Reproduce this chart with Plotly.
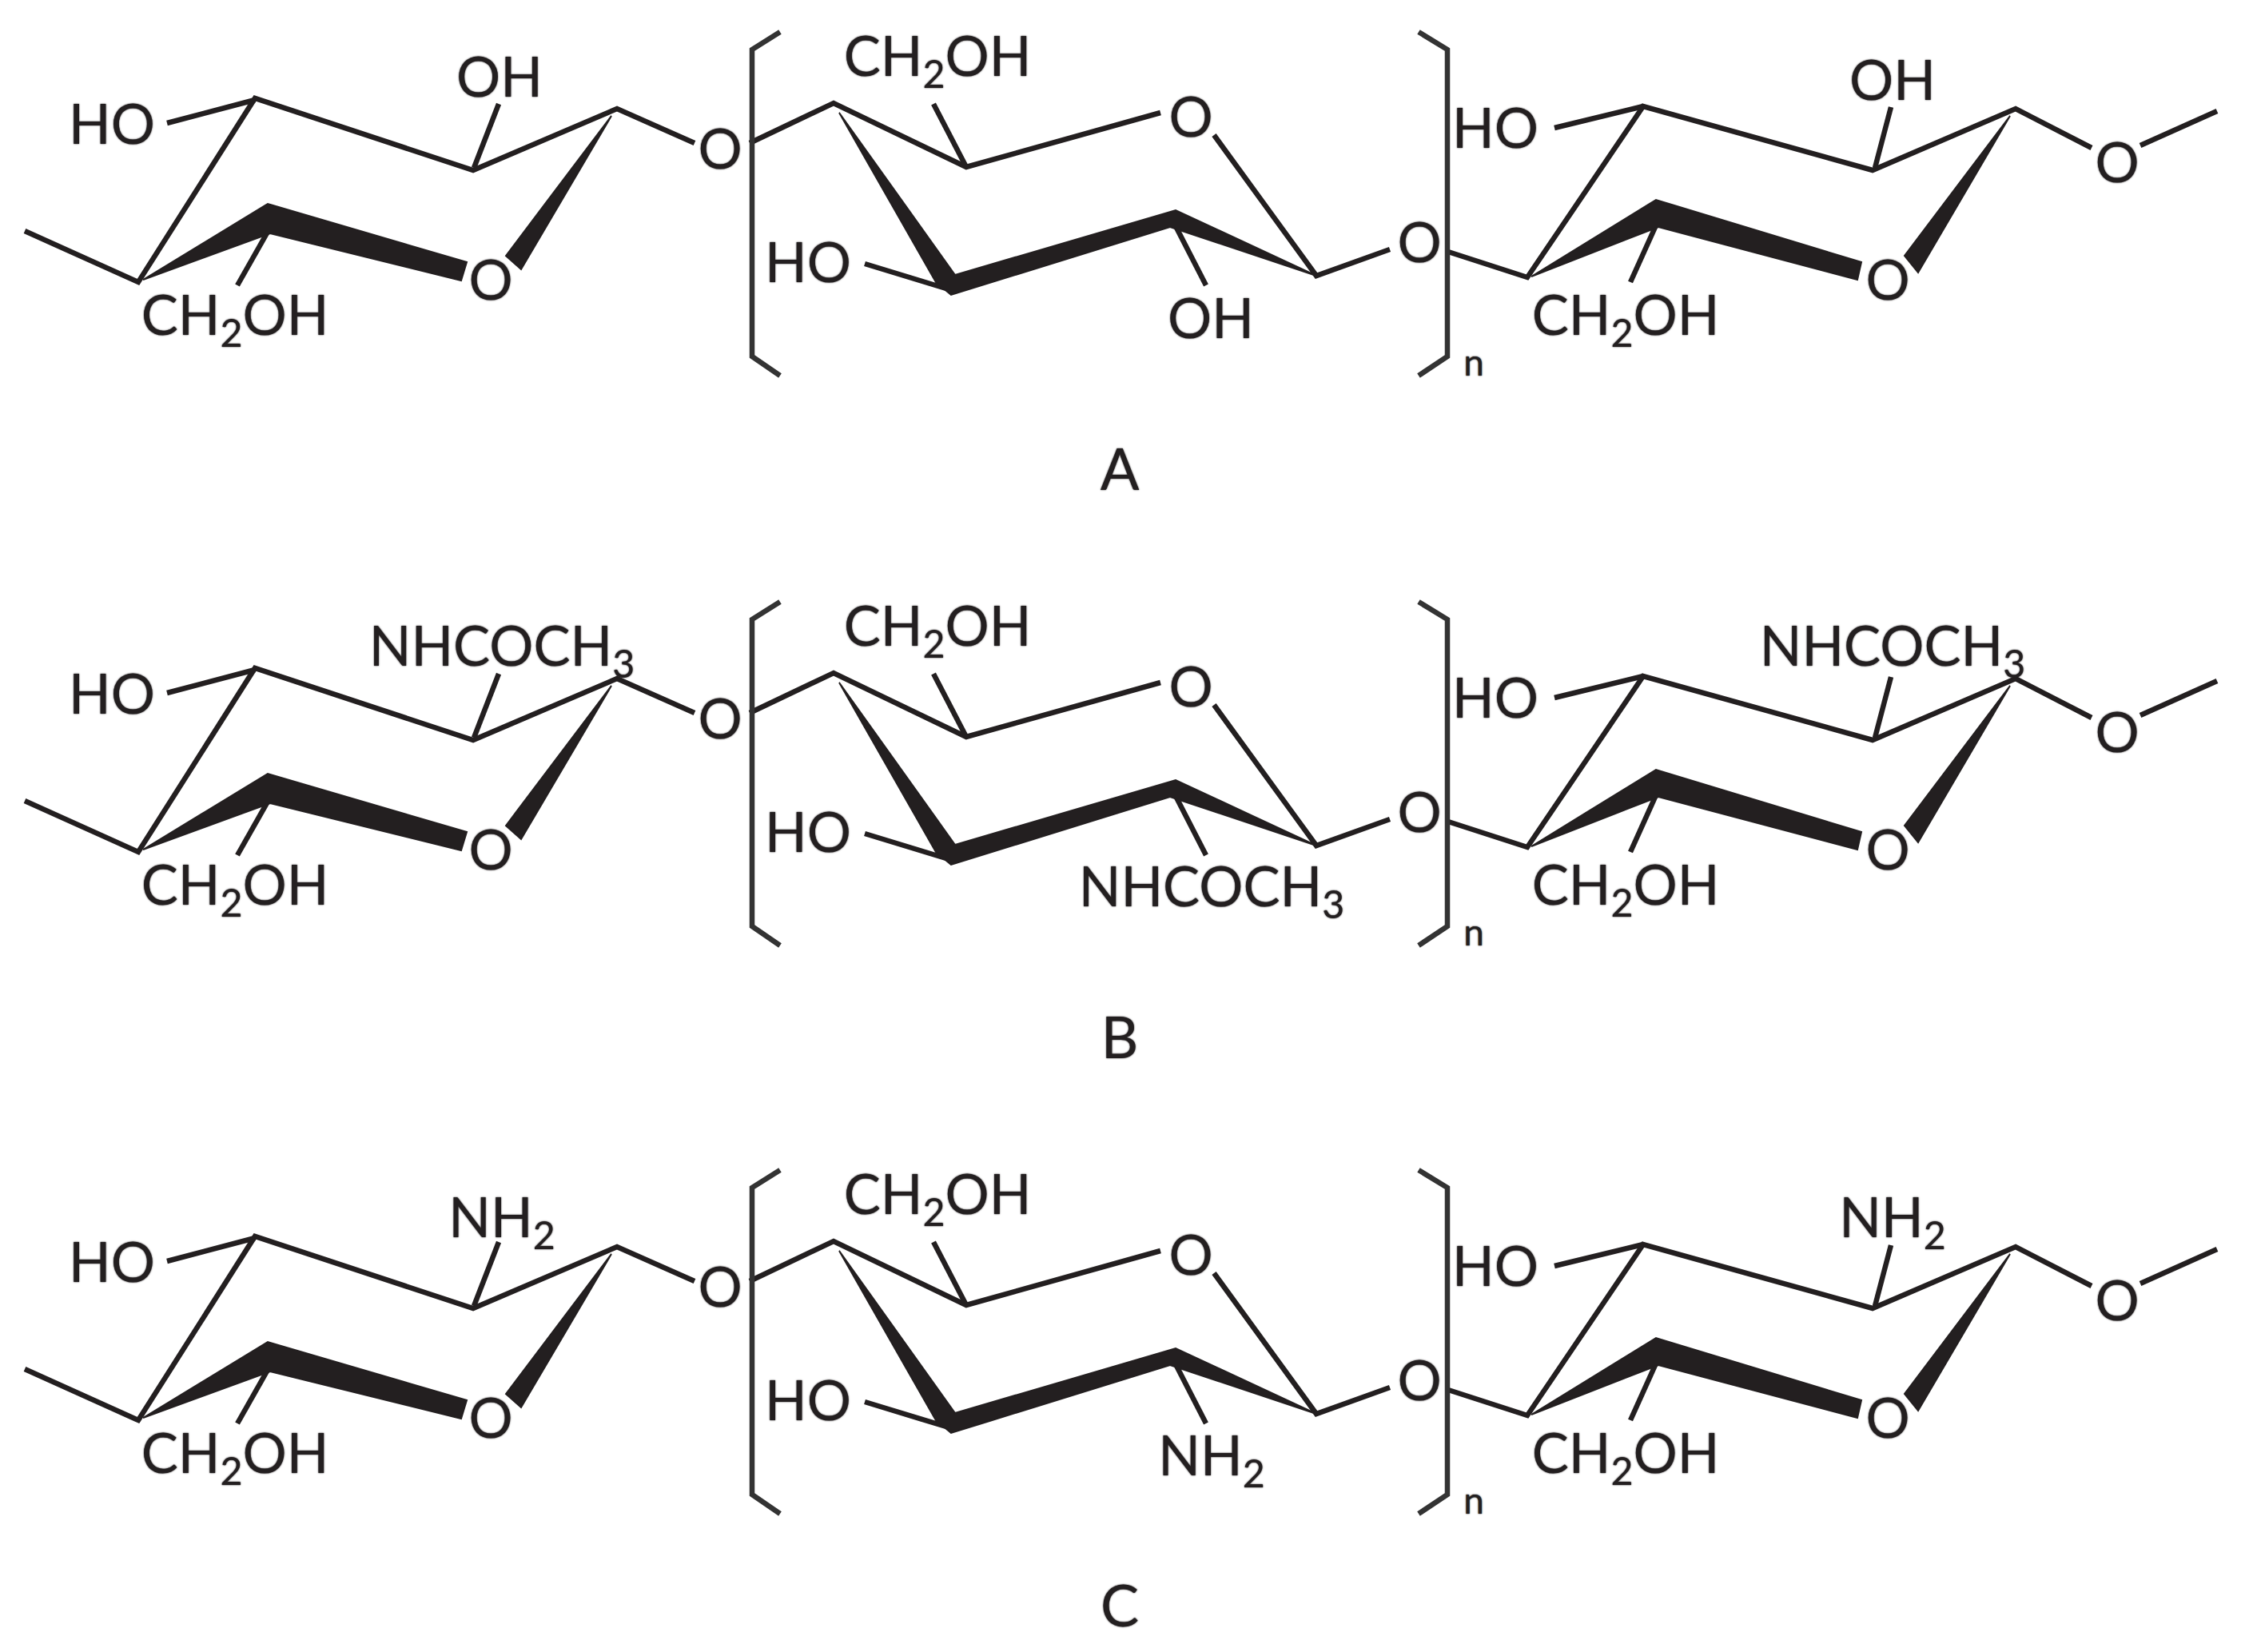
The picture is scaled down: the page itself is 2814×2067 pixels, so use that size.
import plotly.graph_objects as go

W, H = 2814, 2067
INK = "#231f20"
FONT = "Lato, 'Open Sans', sans-serif"
TEXT_SHADOW = "0 0 2px #231f20"

ROW_OFFSETS = [0, 713, 1424]
ROW_NAMES = ["A", "B", "C"]
ROW_NAME_POS = [(1401, 595), (1401, 1306), (1401, 2017)]

# thin bonds, one polyline per entry, as read from row A
BONDS = [
    [(31, 289), (173, 353), (319, 123), (592, 213), (772, 136), (869, 179)],
    [(209, 154), (319, 125)],
    [(624, 130), (593, 210)],
    [(335, 290), (297, 357)],
    [(938, 179), (1043, 129), (1209, 209), (1452, 141)],
    [(1168, 130), (1209, 209)],
    [(1519, 169), (1647, 345), (1739, 312)],
    [(1082, 330), (1187, 362)],
    [(1812, 315), (1911, 347), (2056, 133), (2343, 213), (2522, 136), (2617, 185)],
    [(1945, 160), (2056, 133)],
    [(2366, 134), (2346, 210)],
    [(2072, 282), (2040, 353)],
    [(2678, 182), (2774, 139)],
]
# bond that leads to the lower substituent of the middle ring
LOWER_BOND = [(1471, 283), (1509, 357)]

BRACKETS = [
    [(976, 40), (941, 62), (941, 446), (976, 470)],
    [(1775, 40), (1811, 62), (1811, 446), (1775, 470)],
]

# bold front edges of the rings, drawn as filled outlines
WEDGES = [
    [(179, 350), (335, 255), (584, 328), (577, 351), (338, 292)],
    [(765, 145), (633, 320), (652, 337)],
    [(1050, 141), (1195, 344), (1471, 263), (1647, 345), (1464, 284), (1190, 369), (1171, 353)],
    [(1916, 346), (2072, 250), (2329, 328), (2324, 350), (2075, 284)],
    [(2515, 145), (2383, 320), (2400, 341)],
]

# labels common to all rows
COMMON_LABELS = ["HO", "CH<sub>2</sub>OH", "O", "O", "CH<sub>2</sub>OH", "HO", "O", "O", "HO", "CH<sub>2</sub>OH", "O", "O"]
COMMON_X = [140, 294, 614, 901, 1173, 1011, 1490, 1776, 1871, 2034, 2362, 2649]
COMMON_Y = [163, 402, 358, 194, 78, 336, 154, 311, 168, 402, 358, 211]

# the substituent that differs from row to row: ring 1 top, ring 2 bottom, ring 3 top
SUBST_X = [
    [625, 1515, 2368],
    [628, 1516, 2368],
    [628, 1516, 2368],
]
SUBST_Y = [
    [104, 406, 108],
    [103, 404, 103],
    [107, 405, 107],
]
SUBST_TEXT = ["OH", "NHCOCH<sub>3</sub>", "NH<sub>2</sub>"]
N_LABEL = ("n", 1844, 458)

fig = go.Figure()


def polyline_xy(lines, dy):
    xs, ys = [], []
    for line in lines:
        xs += [p[0] for p in line] + [None]
        ys += [p[1] + dy for p in line] + [None]
    return xs, ys


for i, dy in enumerate(ROW_OFFSETS):
    x, y = polyline_xy(BONDS + [LOWER_BOND], dy)
    fig.add_trace(go.Scatter(x=x, y=y, mode="lines", line=dict(color=INK, width=6.5), hoverinfo="skip"))
    x, y = polyline_xy(BRACKETS, dy)
    fig.add_trace(go.Scatter(x=x, y=y, mode="lines", line=dict(color="#333333", width=6.5), hoverinfo="skip"))
    for wedge in WEDGES:
        fig.add_trace(go.Scatter(
            x=[p[0] for p in wedge] + [wedge[0][0]],
            y=[p[1] + dy for p in wedge] + [wedge[0][1] + dy],
            mode="lines", fill="toself", fillcolor=INK, line=dict(color=INK, width=2), hoverinfo="skip"))
    fig.add_trace(go.Scatter(
        x=COMMON_X, y=[v + dy for v in COMMON_Y], text=COMMON_LABELS, mode="text",
        textposition="middle center",
        textfont=dict(family=FONT, size=69, color=INK, shadow=TEXT_SHADOW), hoverinfo="skip"))
    fig.add_trace(go.Scatter(
        x=SUBST_X[i], y=[v + dy for v in SUBST_Y[i]], text=[SUBST_TEXT[i]] * 3, mode="text",
        textposition="middle center",
        textfont=dict(family=FONT, size=69, color=INK, shadow=TEXT_SHADOW), hoverinfo="skip"))
    fig.add_trace(go.Scatter(
        x=[N_LABEL[1]], y=[N_LABEL[2] + dy], text=[N_LABEL[0]], mode="text",
        textposition="middle center",
        textfont=dict(family=FONT, size=46, color=INK, shadow=TEXT_SHADOW), hoverinfo="skip"))
    fig.add_trace(go.Scatter(
        x=[ROW_NAME_POS[i][0]], y=[ROW_NAME_POS[i][1]], text=[ROW_NAMES[i]], mode="text",
        textposition="middle center",
        textfont=dict(family=FONT, size=72, color=INK, shadow=TEXT_SHADOW), hoverinfo="skip"))

fig.update_layout(
    width=W, height=H, margin=dict(l=0, r=0, t=0, b=0), showlegend=False,
    paper_bgcolor="white", plot_bgcolor="white",
    xaxis=dict(range=[0, W], visible=False, fixedrange=True),
    yaxis=dict(range=[H, 0], visible=False, fixedrange=True),
)
fig.write_html("out.html", config={"displayModeBar": False},
               post_script="document.body.style.margin='0';window.dispatchEvent(new Event('resize'));")
